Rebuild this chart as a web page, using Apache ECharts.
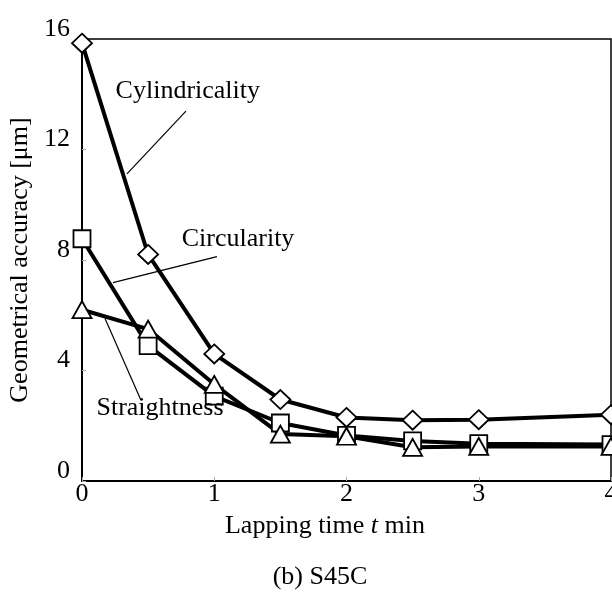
<!DOCTYPE html>
<html>
<head>
<meta charset="utf-8">
<script src="https://cdn.jsdelivr.net/npm/echarts@6/dist/echarts.min.js"></script>
<style>
html,body{margin:0;padding:0;background:#fff;}
#c{width:612px;height:594px;}
</style>
</head>
<body>
<div id="c"></div>
<script>
const times = [0, 0.5, 1, 1.5, 2, 2.5, 3, 4];
const cylindricality = [15.85, 8.2, 4.6, 2.95, 2.3, 2.2, 2.22, 2.4];
const circularity = [8.77, 4.9, 3.07, 2.1, 1.65, 1.45, 1.35, 1.32];
const straightness = [6.2, 5.5, 3.5, 1.7, 1.62, 1.22, 1.25, 1.25];
const yTicks = [0, 4, 8, 12, 16];
const xTicks = [0, 1, 2, 3, 4];

const FONT = "'Liberation Serif','Times New Roman',serif";
const chart = echarts.init(document.getElementById('c'), null, {renderer: 'canvas'});

function pairs(vals) { return times.map((t, i) => [t, vals[i]]); }

function mkSeries(name, vals, symbol, size) {
  return {
    name: name, type: 'line', data: pairs(vals),
    symbol: symbol, symbolSize: size, showSymbol: true,
    lineStyle: {color: '#000', width: 4},
    itemStyle: {color: '#fff', borderColor: '#000', borderWidth: 1.8},
    emphasis: {disabled: true}, animation: false, clip: false, z: 3
  };
}

chart.setOption({
  animation: false,
  grid: {left: 82, right: 1, top: 39, bottom: 113, containLabel: false, outerBoundsMode: 'none',
    show: true, borderColor: '#000', borderWidth: 1.5, backgroundColor: 'transparent'},
  xAxis: {
    type: 'value', min: xTicks[0], max: xTicks[xTicks.length - 1], interval: 1,
    axisLine: {show: true, lineStyle: {color: '#000', width: 2}},
    axisTick: {show: true, inside: true, length: 4, lineStyle: {color: '#aaa', width: 1}},
    splitLine: {show: false},
    axisLabel: {fontFamily: FONT, fontSize: 26, color: '#000', margin: 0},
    name: 'Lapping time {i|t} min', nameLocation: 'middle', nameGap: 32,
    nameTextStyle: {fontFamily: FONT, fontSize: 26, color: '#000', padding: [0, 43, 0, 0],
      rich: {i: {fontFamily: FONT, fontSize: 26, fontStyle: 'italic', color: '#000'}}}
  },
  yAxis: {
    type: 'value', min: yTicks[0], max: yTicks[yTicks.length - 1], interval: 4,
    axisLine: {show: true, lineStyle: {color: '#000', width: 2}},
    axisTick: {show: true, inside: true, length: 4, lineStyle: {color: '#aaa', width: 1}},
    splitLine: {show: false},
    axisLabel: {fontFamily: FONT, fontSize: 26, color: '#000', margin: 12, verticalAlign: 'bottom', lineHeight: 20},
    name: 'Geometrical accuracy [μm]', nameLocation: 'middle', nameGap: 48, nameRotate: 90,
    nameTextStyle: {fontFamily: FONT, fontSize: 26, color: '#000'}
  },
  series: [
    mkSeries('Cylindricality', cylindricality, 'diamond', [20, 19]),
    mkSeries('Circularity', circularity, 'rect', 17),
    mkSeries('Straightness', straightness, 'triangle', [19, 17])
  ]
});

// annotations (positions in data coordinates)
const notes = [
  {text: 'Cylindricality', at: [0.80, 14.1], from: [0.786, 13.39], to: [0.34, 11.12]},
  {text: 'Circularity', at: [1.18, 8.77], from: [1.02, 8.12], to: [0.234, 7.18]},
  {text: 'Straightness', at: [0.59, 2.64], from: [0.174, 5.88], to: [0.446, 2.92]}
];
const g = [];
notes.forEach(n => {
  const p = chart.convertToPixel({gridIndex: 0}, n.at);
  const a = chart.convertToPixel({gridIndex: 0}, n.from);
  const b = chart.convertToPixel({gridIndex: 0}, n.to);
  g.push({type: 'line', shape: {x1: a[0], y1: a[1], x2: b[0], y2: b[1]}, style: {stroke: '#000', lineWidth: 1.2}, z: 10});
  g.push({type: 'text', x: p[0], y: p[1], style: {text: n.text, font: '26px ' + FONT, fill: '#000', textAlign: 'center', textVerticalAlign: 'middle'}, z: 11});
});
g.push({type: 'text', x: 320, y: 577, style: {text: '(b) S45C', font: '26px ' + FONT, fill: '#000', textAlign: 'center', textVerticalAlign: 'middle'}, z: 11});
chart.setOption({graphic: g});
</script>
</body>
</html>
